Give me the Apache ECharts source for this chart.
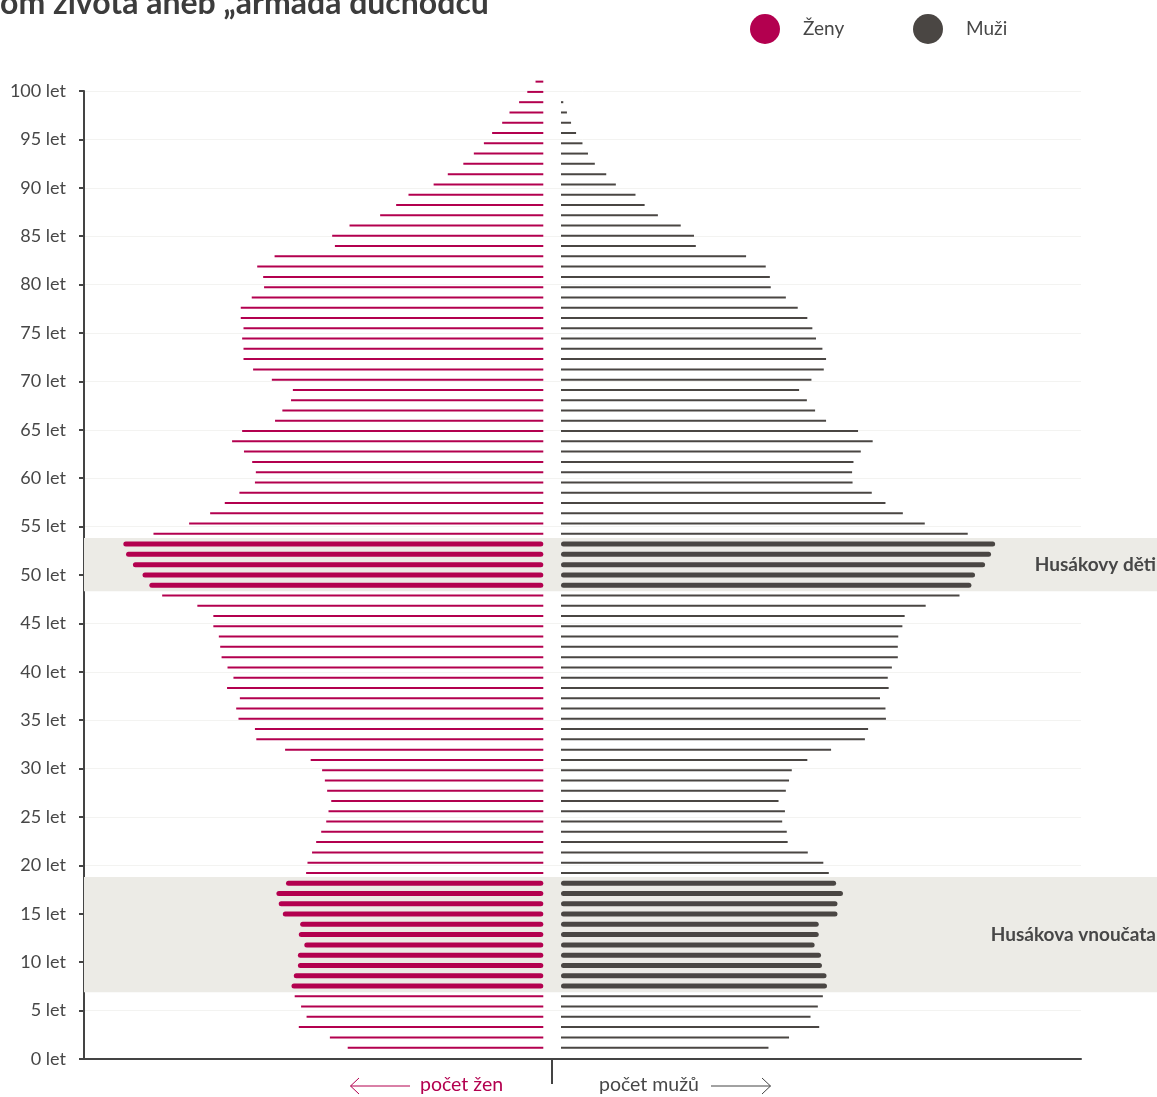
<!DOCTYPE html>
<html><head><meta charset="utf-8">
<script src="https://cdn.jsdelivr.net/npm/echarts@6/dist/echarts.min.js"></script>
<style>html,body{margin:0;padding:0;background:#fff}#c{width:1157px;height:1097px}</style>
</head><body><div id="c"></div>
<script>
// age categories (bottom -> top)
const ages = Array.from({length: 95}, (_, i) => String(i));
// population in thousands, age 0 -> 94
const women = [42.8,46.7,53.5,51.8,53.0,54.4,55.1,54.6,53.7,53.7,
  52.3,53.5,53.2,57.0,57.9,58.4,56.3,51.9,51.6,50.6,
  49.7,48.6,47.5,47.0,46.4,47.3,47.8,48.4,50.9,56.5,
  62.8,63.1,66.7,67.2,66.4,69.2,67.8,69.1,70.4,70.7,
  71.0,72.2,72.2,75.7,83.4,86.2,87.7,89.8,91.3,91.9,
  85.3,77.5,72.9,69.7,66.5,63.1,62.9,63.7,65.5,68.1,
  65.9,58.7,57.1,55.2,54.8,59.4,63.5,65.6,65.6,65.9,
  65.6,66.2,66.2,63.8,61.1,61.3,62.6,58.8,45.6,46.2,
  42.4,35.7,32.2,29.5,24.0,20.9,17.5,15.2,13.0,11.2,
  9.0,7.4,5.3,3.5,1.7];
const men = [45.4,49.9,56.5,54.6,56.2,57.3,58.2,58.1,57.1,56.9,
  55.5,56.4,56.4,60.5,60.5,61.7,60.2,58.6,57.4,54.0,
  49.6,49.4,48.4,49.0,47.6,49.2,49.9,50.5,53.9,59.1,
  66.5,67.2,71.1,71.0,69.8,71.7,71.5,72.4,73.7,73.7,
  73.8,74.7,75.2,79.8,87.2,89.8,90.6,92.8,94.1,95.0,
  89.0,79.6,74.8,71.0,68.0,63.8,63.7,64.0,65.6,68.2,
  65.0,58.0,55.6,53.8,52.1,54.8,57.5,58.0,57.2,55.8,
  55.0,53.9,51.8,49.2,45.9,45.7,44.8,40.5,29.5,29.1,
  26.2,21.2,18.3,16.3,12.0,9.9,7.4,5.9,4.7,3.3,
  2.2,1.3,0.5,0,0];
const highlightGroups = [
  {label: 'Husákovy děti', from: 45, to: 49},
  {label: 'Husákova vnoučata', from: 6, to: 16}
];
const tickAges = {min: 0, max: 100, step: 5};

const F = '#b3004f', M = '#4a4643', TXT = '#474747', FONT = 'Lato';
const isHi = i => highlightGroups.some(g => i >= g.from && i <= g.to);
const thin = arr => arr.map((v, i) => isHi(i) ? '-' : v);
const thick = arr => arr.map((v, i) => isHi(i) ? v : '-');

const chart = echarts.init(document.getElementById('c'));
const GT = 76.5, GH = 976.3, W = 457;
const catAxis = (grid) => ({type: 'category', gridIndex: grid, data: ages, show: false});

chart.setOption({
  animation: false,
  backgroundColor: '#fff',
  legend: [
    {data: ['Ženy'], left: 750, top: 14, padding: 0, icon: 'circle', itemWidth: 30, itemHeight: 30, selectedMode: false,
      textStyle: {fontFamily: FONT, fontSize: 19, color: TXT, padding: [4, 0, 0, 18]}},
    {data: ['Muži'], left: 913, top: 14, padding: 0, icon: 'circle', itemWidth: 30, itemHeight: 30, selectedMode: false,
      textStyle: {fontFamily: FONT, fontSize: 19, color: TXT, padding: [4, 0, 0, 18]}}
  ],
  grid: [
    {left: 543.3 - W, width: W, top: GT, height: GH},
    {left: 561, width: W, top: GT, height: GH},
    {left: 84, right: 76, top: 91, bottom: 38},
    {left: 84, right: 0, top: GT, height: GH}
  ],
  xAxis: [
    {type: 'value', gridIndex: 0, min: 0, max: 100, inverse: true, show: false},
    {type: 'value', gridIndex: 1, min: 0, max: 100, show: false},
    {type: 'value', gridIndex: 2, min: 0, max: 1, axisLine: {show: true, onZero: false, lineStyle: {color: '#444', width: 2}},
      axisTick: {show: false}, axisLabel: {show: false}, splitLine: {show: false}},
    {type: 'value', gridIndex: 3, min: 0, max: 1, show: false}
  ],
  yAxis: [
    catAxis(0), catAxis(0), catAxis(1), catAxis(1),
    {type: 'value', gridIndex: 2, min: tickAges.min, max: tickAges.max, interval: tickAges.step,
      axisLine: {show: true, onZero: false, lineStyle: {color: '#444', width: 2}},
      axisTick: {show: true, length: 5, lineStyle: {color: '#444', width: 2}},
      axisLabel: {formatter: '{value} let', margin: 18, fontFamily: FONT, fontSize: 18, color: TXT},
      splitLine: {show: true, lineStyle: {color: '#f3f3f1', width: 1}}},
    {type: 'value', gridIndex: 3, min: -0.5, max: 94.5, show: false}
  ],
  series: [
    {type: 'line', xAxisIndex: 3, yAxisIndex: 5, data: [], silent: true, z: 1,
      markArea: {silent: true, itemStyle: {color: '#ecebe6'},
        label: {show: true, position: 'insideRight', distance: 1, fontFamily: FONT, fontWeight: 'bold', fontSize: 19, color: TXT},
        data: highlightGroups.map(g => [{name: g.label, yAxis: g.from - 0.6}, {yAxis: g.to + 0.6}])}},
    {type: 'scatter', xAxisIndex: 2, yAxisIndex: 4, data: [], silent: true},
    {name: 'Ženy', type: 'bar', xAxisIndex: 0, yAxisIndex: 0, data: thin(women), barWidth: 2, itemStyle: {color: F}, z: 3, silent: true},
    {name: 'Ženy', type: 'bar', xAxisIndex: 0, yAxisIndex: 1, data: thick(women), barWidth: 5, itemStyle: {color: F, borderRadius: 2.5}, z: 3, silent: true},
    {name: 'Muži', type: 'bar', xAxisIndex: 1, yAxisIndex: 2, data: thin(men), barWidth: 2, itemStyle: {color: M}, z: 3, silent: true},
    {name: 'Muži', type: 'bar', xAxisIndex: 1, yAxisIndex: 3, data: thick(men), barWidth: 5, itemStyle: {color: M, borderRadius: 2.5}, z: 3, silent: true}
  ],
  graphic: [
    {type: 'text', left: 0, top: -12, style: {text: 'om života aneb „armáda důchodců“', font: 'bold 32px Lato', fill: '#3c3c3c'}},
    {type: 'line', shape: {x1: 552, y1: 1060, x2: 552, y2: 1084}, style: {stroke: '#444', lineWidth: 2}},
    {type: 'polyline', shape: {points: [[410, 1086], [350.5, 1086]]}, style: {stroke: F, lineWidth: 1, fill: null}},
    {type: 'polyline', shape: {points: [[359, 1078], [350.5, 1086], [359, 1094]]}, style: {stroke: F, lineWidth: 1, fill: null}},
    {type: 'text', x: 420, y: 1085, style: {text: 'počet žen', font: '19.5px Lato', fill: F, textVerticalAlign: 'middle'}},
    {type: 'text', x: 599, y: 1085, style: {text: 'počet mužů', font: '19.5px Lato', fill: TXT, textVerticalAlign: 'middle'}},
    {type: 'polyline', shape: {points: [[711, 1086], [770.5, 1086]]}, style: {stroke: '#444', lineWidth: 1, fill: null}},
    {type: 'polyline', shape: {points: [[762, 1078], [770.5, 1086], [762, 1094]]}, style: {stroke: '#444', lineWidth: 1, fill: null}}
  ]
});
</script></body></html>
